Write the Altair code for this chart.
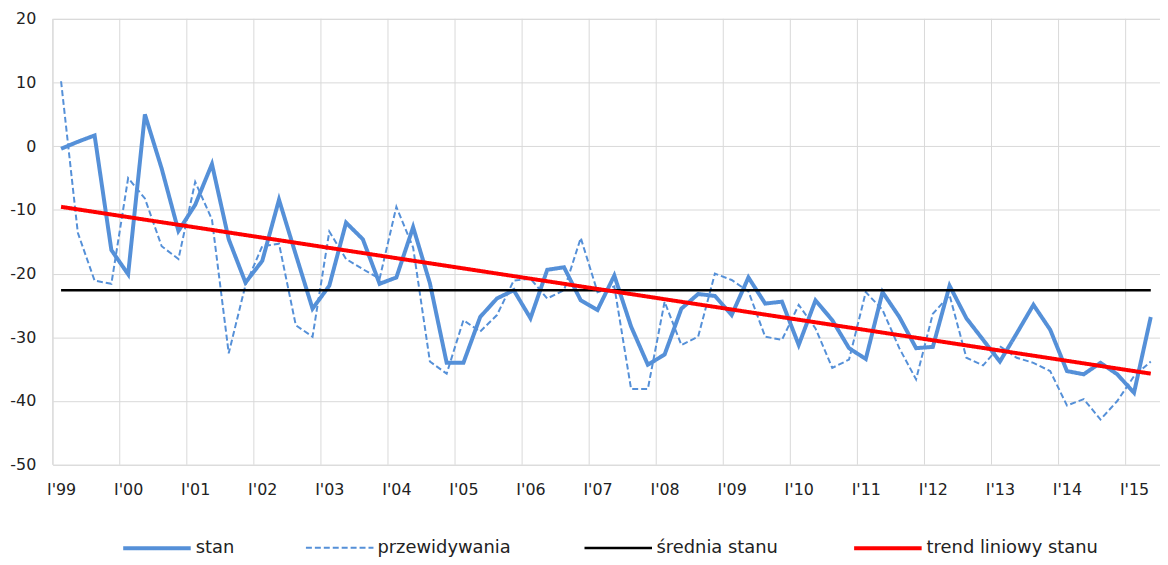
import json
import altair as alt
import pandas as pd

# --- data (quarterly, I'99 .. II'15) ---
years = ["I'99", "I'00", "I'01", "I'02", "I'03", "I'04", "I'05", "I'06", "I'07",
         "I'08", "I'09", "I'10", "I'11", "I'12", "I'13", "I'14", "I'15"]

stan = [
    -0.4, 0.7, 1.7, -16.3, -20.1, 5.0, -3.5, -13.3, -9.2, -2.8,
    -14.6, -21.4, -18.0, -8.4, -17.0, -25.5, -21.9, -12.0, -14.6, -21.6,
    -20.6, -12.7, -21.5, -34.0, -34.0, -26.8, -23.9, -22.6, -27.0, -19.4,
    -19.0, -24.2, -25.7, -20.3, -28.3, -34.3, -32.7, -25.5, -23.2, -23.5,
    -26.5, -20.6, -24.7, -24.4, -31.2, -24.2, -27.3, -31.7, -33.4, -22.9,
    -26.8, -31.7, -31.5, -21.9, -27.0, -30.4, -33.8, -29.4, -24.9, -28.8,
    -35.3, -35.8, -34.0, -35.8, -38.7, -26.8,
]

przewidywania = [
    10.2, -13.6, -21.1, -21.6, -5.0, -8.2, -15.7, -17.7, -5.6, -11.5,
    -32.5, -21.8, -15.7, -15.3, -28.1, -29.9, -13.4, -17.7, -19.3, -20.8,
    -9.5, -15.9, -33.8, -35.7, -27.3, -29.1, -26.5, -21.1, -20.8, -23.9,
    -22.6, -14.4, -22.9, -22.0, -38.1, -38.1, -24.4, -31.2, -29.9, -20.0,
    -21.0, -22.8, -29.9, -30.4, -24.9, -28.6, -34.8, -33.5, -22.9, -25.7,
    -31.7, -36.6, -26.3, -23.4, -33.2, -34.4, -31.4, -33.2, -34.0, -35.3,
    -40.7, -39.7, -42.9, -40.0, -36.1, -33.8,
]

series_names = ["stan", "przewidywania", "średnia stanu", "trend liniowy stanu"]
series_colors = ["#5590D8", "#5590D8", "#000000", "#FF0000"]
series_dashes = [[1, 0], [6, 3], [1, 0], [1, 0]]
series_widths = [4, 2, 2.5, 4]

y_ticks = [-50, -40, -30, -20, -10, 0, 10, 20]

n = len(stan)
df = pd.DataFrame({"i": list(range(n)), "stan": stan, "przew": przewidywania})
bounds = pd.DataFrame({"b": [4 * k - 0.5 for k in range(len(years))]})

xscale = alt.Scale(domain=[-0.5, 65.55], nice=False, zero=False)
yscale = alt.Scale(domain=[-50, 20], nice=False, zero=False)

xaxis = alt.Axis(
    values=[4 * k for k in range(len(years))],
    labelExpr=f"{json.dumps(years)}[round(datum.value / 4)]",
    grid=False, ticks=False, tickSize=0, domain=False,
    labelPadding=17, labelFontSize=16, labelColor="#222222",
    labelFont="DejaVu Sans", title=None,
)
yaxis = alt.Axis(
    values=y_ticks, labelExpr="'' + datum.value",
    grid=True, gridColor="#D9D9D9", gridWidth=1,
    ticks=False, tickSize=0, domain=False, labelPadding=17,
    labelFontSize=16, labelColor="#222222", labelFont="DejaVu Sans", title=None,
)

legend = alt.Legend(
    title=None, orient="none", direction="horizontal",
    legendX=69, legendY=497, symbolType="stroke", symbolSize=4624,
    labelFontSize=18, labelFont="DejaVu Sans", labelColor="#222222",
    labelOffset=3, columnPadding=68, labelLimit=400,
)

color = alt.Color("series:N", scale=alt.Scale(domain=series_names, range=series_colors), legend=legend)
dash = alt.StrokeDash("series:N", scale=alt.Scale(domain=series_names, range=series_dashes), legend=legend)
width = alt.StrokeWidth("series:N", scale=alt.Scale(type="ordinal", domain=series_names, range=series_widths), legend=legend)

base = alt.Chart(df)

grid_v = alt.Chart(bounds).mark_rule(color="#D9D9D9", strokeWidth=1).encode(
    x=alt.X("b:Q", scale=xscale, axis=xaxis)
)

line_stan = base.transform_calculate(series="'stan'").mark_line().encode(
    x=alt.X("i:Q", scale=xscale, axis=xaxis),
    y=alt.Y("stan:Q", scale=yscale, axis=yaxis),
    color=color, strokeDash=dash, strokeWidth=width,
)

line_przew = base.transform_calculate(series="'przewidywania'").mark_line().encode(
    x=alt.X("i:Q", scale=xscale, axis=xaxis),
    y=alt.Y("przew:Q", scale=yscale, axis=yaxis),
    color=color, strokeDash=dash, strokeWidth=width,
)

mean_rule = base.transform_aggregate(
    m="mean(stan)", x0="min(i)", x1="max(i)"
).transform_calculate(series="'średnia stanu'").mark_rule().encode(
    x=alt.X("x0:Q", scale=xscale, axis=xaxis),
    x2="x1:Q",
    y=alt.Y("m:Q", scale=yscale, axis=yaxis),
    color=color, strokeDash=dash, strokeWidth=width,
)

trend = base.transform_regression("i", "stan", method="linear").transform_calculate(
    series="'trend liniowy stanu'"
).mark_line().encode(
    x=alt.X("i:Q", scale=xscale, axis=xaxis),
    y=alt.Y("stan:Q", scale=yscale, axis=yaxis),
    color=color, strokeDash=dash, strokeWidth=width,
)

chart = alt.layer(grid_v, line_stan, line_przew, mean_rule, trend).properties(
    width=1115, height=449,
    padding={"left": 45, "top": 9, "right": 0, "bottom": 92},
    autosize=alt.AutoSizeParams(type="none"),
).configure_view(stroke=None).configure(font="DejaVu Sans")

chart.save("out.html", embed_options={"renderer": "svg", "actions": False})
